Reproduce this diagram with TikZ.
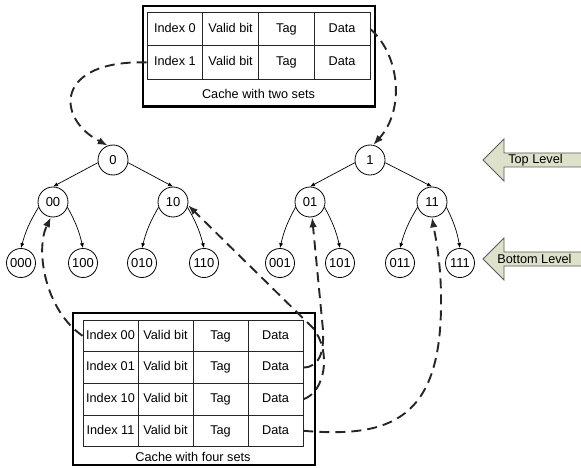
\documentclass[tikz,border=0pt]{standalone}
\usepackage{fontspec}
\setmainfont{Liberation Sans}
\usetikzlibrary{arrows.meta}
\definecolor{levelfill}{HTML}{DEE1CA}
\definecolor{levelline}{HTML}{5A5A5A}
\definecolor{linkcol}{HTML}{262626}
\tikzset{
  x=1pt, y=-1pt,
  txt/.style={font=\fontsize{12.7}{14}\selectfont},
  tn/.style={circle, draw, line width=0.8pt, minimum size=30pt, inner sep=0pt,
             font=\fontsize{13}{14}\selectfont},
  leaf/.style={tn, minimum size=29pt},
  edge/.style={-{Latex[length=5pt,width=4pt]}, line width=0.7pt},
  tcell/.style={draw=black!85, line width=0.9pt, minimum width=55.75pt,
                minimum height=33.25pt, inner sep=0pt, text height=9.2pt,
                text depth=2.6pt, txt},
  bcell/.style={draw=black!85, line width=0.9pt, minimum width=55pt,
                minimum height=31.7pt, inner sep=0pt, text height=9.2pt,
                text depth=2.6pt, txt},
  outerbox/.style={draw=black, line width=2.2pt, inner sep=0pt},
  link/.style={draw=linkcol, line width=1.9pt, dash pattern=on 10pt off 6pt,
               -{Latex[length=10pt,width=7.5pt]}},
  levelarrow/.style={fill=levelfill, draw=levelline, line width=0.8pt},
}
\begin{document}
\begin{tikzpicture}
\useasboundingbox (0,0) rectangle (581,468);

% ---- cache with two sets ----
\node[outerbox, minimum width=232pt, minimum height=100.5pt] (topcache) at (259,56.25) {};
\foreach \nm/\lab/\y in {t0/0/29.1, t1/1/62.4} {
  \node[tcell] (\nm i) at (174.9,\y) {Index \lab};
  \node[tcell] (\nm v) at (230.6,\y) {Valid bit};
  \node[tcell] (\nm t) at (286.4,\y) {Tag};
  \node[tcell] (\nm d) at (342.1,\y) {Data};
}
\node[txt] (topcap) at (258.5,94) {Cache with two sets};

% ---- cache with four sets ----
\node[outerbox, minimum width=242pt, minimum height=152pt] (botcache) at (194,389) {};
\foreach \nm/\lab/\y in {b00/00/335.8, b01/01/367.5, b10/10/399.2, b11/11/430.8} {
  \node[bcell] (\nm i) at (110.5,\y) {Index \lab};
  \node[bcell] (\nm v) at (165.5,\y) {Valid bit};
  \node[bcell] (\nm t) at (220.5,\y) {Tag};
  \node[bcell] (\nm d) at (275.5,\y) {Data};
}
\node[txt] (botcap) at (193,457) {Cache with four sets};

% ---- left tree ----
\node[tn] (n0) at (113,160) {0};
\node[tn] (n00) at (53,202) {00};
\node[tn] (n10) at (173,202) {10};
\node[leaf] (n000) at (21,263) {000};
\node[leaf] (n100) at (83,263) {100};
\node[leaf] (n010) at (142,263) {010};
\node[leaf] (n110) at (204,263) {110};

% ---- right tree ----
\node[tn] (n1) at (370,160) {1};
\node[tn] (n01) at (310,202) {01};
\node[tn] (n11) at (432,202) {11};
\node[leaf] (n001) at (280,263) {001};
\node[leaf] (n101) at (340,263) {101};
\node[leaf] (n011) at (400,263) {011};
\node[leaf] (n111) at (460,263) {111};

% tree edges
\foreach \p/\l/\r in {n0/n00/n10, n1/n01/n11} {
  \draw[edge] (\p.190) -- (\l.north);
  \draw[edge] (\p.-10) -- (\r.north);
}
\foreach \p/\l/\r in {n00/n000/n100, n10/n010/n110, n01/n001/n101, n11/n011/n111} {
  \draw[edge] (\p.200) to[bend right=8] (\l.north);
  \draw[edge] (\p.-20) to[bend left=8] (\r.north);
}

% ---- level markers ----
\begin{scope}
  \clip (0,0) rectangle (581,468);
  \draw[levelarrow] (483,160) -- (504,139) -- (504,153) -- (600,153) -- (600,167)
    -- (504,167) -- (504,181) -- cycle;
  \draw[levelarrow] (483,259) -- (504,238) -- (504,252) -- (600,252) -- (600,266)
    -- (504,266) -- (504,280) -- cycle;
\end{scope}
\node[txt] (toplvl) at (535.5,160) {Top Level};
\node[txt] (botlvl) at (534.5,259) {Bottom Level};

% ---- set-index links ----
\draw[link] (t1i.west) .. controls (55,60) and (55,118) .. (n0.110);
\draw[link] (t0d.east) .. controls (400,55) and (405,110) .. (n1.78);
\draw[link] (b00i.west) .. controls (45,310) and (35,250) .. (n00.262);
\draw[link] (b10d.east) .. controls (325,392) and (332,352) .. (313,328) -- (n10.-12);
\draw[link] (b01d.east) .. controls (320,367) and (324,352) .. (323,330) -- (n01.-82);
\draw[link] (b11d.east) .. controls (390,438) and (442,420) .. (441,300)
  .. controls (441,262) and (436,240) .. (n11.-90);
\end{tikzpicture}
\end{document}
